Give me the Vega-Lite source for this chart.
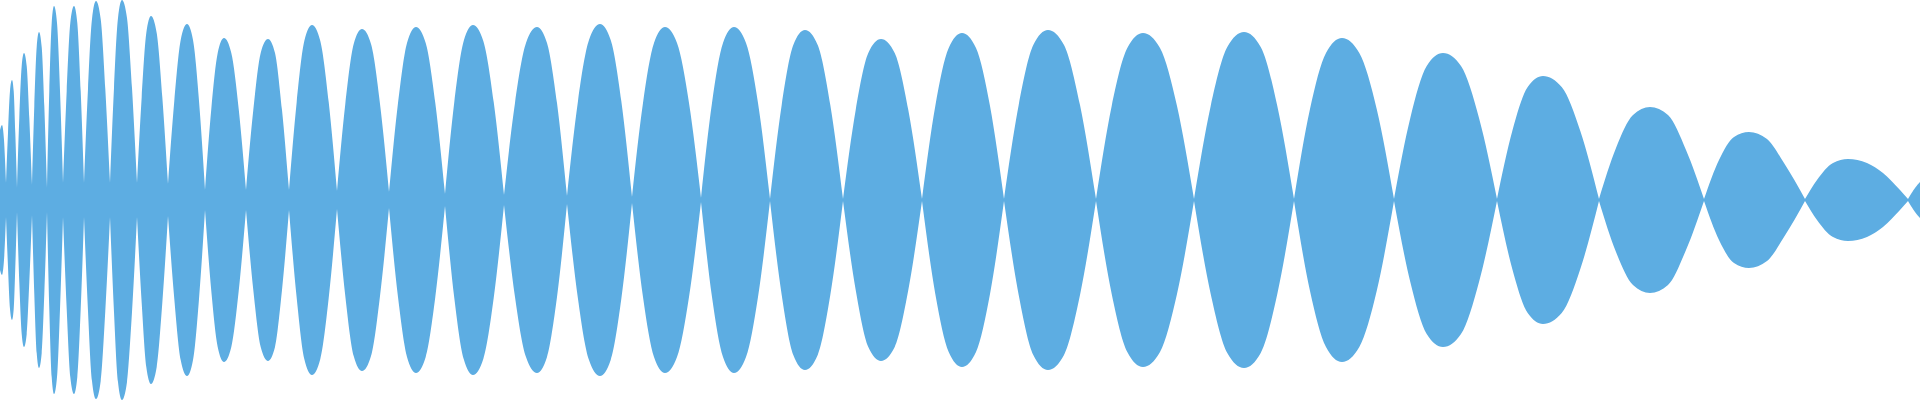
{
 "$schema": "https://vega.github.io/schema/vega-lite/v6.json",
 "width": 1920, "height": 400, "padding": 0, "autosize": {"type": "none"},
 "background": "white",
 "config": {"view": {"stroke": null}},
 "data": {"values": [
  {"t":0,"a":70,"k":0},{"t":2,"a":75,"k":0},{"t":4,"a":60,"k":0},{"t":6,"a":17,"k":0},
  {"t":6,"a":17,"k":1},{"t":8,"a":67,"k":1},{"t":10,"a":109,"k":1},{"t":12,"a":120,"k":1},{"t":13.7,"a":109,"k":1},{"t":15.3,"a":67,"k":1},{"t":17,"a":12,"k":1},
  {"t":17,"a":12,"k":2},{"t":19.3,"a":82,"k":2},{"t":21.7,"a":134,"k":2},{"t":24,"a":147,"k":2},{"t":26.7,"a":134,"k":2},{"t":29.3,"a":82,"k":2},{"t":32,"a":15,"k":2},
  {"t":32,"a":15,"k":3},{"t":34.3,"a":94,"k":3},{"t":36.7,"a":153,"k":3},{"t":39,"a":168,"k":3},{"t":41.7,"a":153,"k":3},{"t":44.3,"a":94,"k":3},{"t":47,"a":12,"k":3},
  {"t":47,"a":12,"k":4},{"t":49.3,"a":109,"k":4},{"t":51.7,"a":177,"k":4},{"t":54,"a":194,"k":4},{"t":57,"a":177,"k":4},{"t":60,"a":109,"k":4},{"t":63,"a":17,"k":4},
  {"t":63,"a":17,"k":5},{"t":66.7,"a":109,"k":5},{"t":70.3,"a":177,"k":5},{"t":74,"a":194,"k":5},{"t":77.3,"a":177,"k":5},{"t":80.7,"a":109,"k":5},{"t":84,"a":17,"k":5},
  {"t":84,"a":17,"k":6},{"t":88,"a":111,"k":6},{"t":92,"a":181,"k":6},{"t":96,"a":199,"k":6},{"t":100.7,"a":181,"k":6},{"t":105.3,"a":111,"k":6},{"t":110,"a":17,"k":6},
  {"t":110,"a":17,"k":7},{"t":114,"a":112,"k":7},{"t":118,"a":182,"k":7},{"t":122,"a":200,"k":7},{"t":127,"a":182,"k":7},{"t":132,"a":112,"k":7},{"t":137,"a":17,"k":7},
  {"t":137,"a":17,"k":8},{"t":141.7,"a":103,"k":8},{"t":146.3,"a":167,"k":8},{"t":151,"a":184,"k":8},{"t":156.7,"a":167,"k":8},{"t":162.3,"a":103,"k":8},{"t":168,"a":16,"k":8},
  {"t":168,"a":16,"k":9},{"t":174.3,"a":99,"k":9},{"t":180.7,"a":160,"k":9},{"t":187,"a":176,"k":9},{"t":193,"a":160,"k":9},{"t":199,"a":99,"k":9},{"t":205,"a":10,"k":9},
  {"t":205,"a":10,"k":10},{"t":211.3,"a":91,"k":10},{"t":217.7,"a":147,"k":10},{"t":224,"a":162,"k":10},{"t":231.3,"a":147,"k":10},{"t":238.7,"a":91,"k":10},{"t":246,"a":10,"k":10},
  {"t":246,"a":10,"k":11},{"t":253.3,"a":90,"k":11},{"t":260.7,"a":147,"k":11},{"t":268,"a":161,"k":11},{"t":275,"a":147,"k":11},{"t":282,"a":90,"k":11},{"t":289,"a":10,"k":11},
  {"t":289,"a":10,"k":12},{"t":296.7,"a":98,"k":12},{"t":304.3,"a":159,"k":12},{"t":312,"a":175,"k":12},{"t":320.3,"a":159,"k":12},{"t":328.7,"a":98,"k":12},{"t":337,"a":9,"k":12},
  {"t":337,"a":9,"k":13},{"t":345.3,"a":96,"k":13},{"t":353.7,"a":156,"k":13},{"t":362,"a":171,"k":13},{"t":371,"a":156,"k":13},{"t":380,"a":96,"k":13},{"t":389,"a":8,"k":13},
  {"t":389,"a":8,"k":14},{"t":398,"a":97,"k":14},{"t":407,"a":157,"k":14},{"t":416,"a":173,"k":14},{"t":425.7,"a":157,"k":14},{"t":435.3,"a":97,"k":14},{"t":445,"a":6,"k":14},
  {"t":445,"a":6,"k":15},{"t":454.3,"a":98,"k":15},{"t":463.7,"a":159,"k":15},{"t":473,"a":175,"k":15},{"t":483.3,"a":159,"k":15},{"t":493.7,"a":98,"k":15},{"t":504,"a":5,"k":15},
  {"t":504,"a":5,"k":16},{"t":515,"a":97,"k":16},{"t":526,"a":157,"k":16},{"t":537,"a":173,"k":16},{"t":547,"a":157,"k":16},{"t":557,"a":97,"k":16},{"t":567,"a":4,"k":16},
  {"t":567,"a":4,"k":17},{"t":578,"a":99,"k":17},{"t":589,"a":160,"k":17},{"t":600,"a":176,"k":17},{"t":610.7,"a":160,"k":17},{"t":621.3,"a":99,"k":17},{"t":632,"a":3,"k":17},
  {"t":632,"a":3,"k":18},{"t":643,"a":97,"k":18},{"t":654,"a":157,"k":18},{"t":665,"a":173,"k":18},{"t":677,"a":157,"k":18},{"t":689,"a":97,"k":18},{"t":701,"a":2,"k":18},
  {"t":701,"a":2,"k":19},{"t":712,"a":97,"k":19},{"t":723,"a":157,"k":19},{"t":734,"a":173,"k":19},{"t":746,"a":157,"k":19},{"t":758,"a":97,"k":19},{"t":770,"a":1,"k":19},
  {"t":770,"a":1,"k":20},{"t":781.7,"a":95,"k":20},{"t":793.3,"a":155,"k":20},{"t":805,"a":170,"k":20},{"t":817.7,"a":155,"k":20},{"t":830.3,"a":95,"k":20},{"t":843,"a":1,"k":20},
  {"t":843,"a":1,"k":21},{"t":855.7,"a":90,"k":21},{"t":868.3,"a":147,"k":21},{"t":881,"a":161,"k":21},{"t":894.7,"a":147,"k":21},{"t":908.3,"a":90,"k":21},{"t":922,"a":1,"k":21},
  {"t":922,"a":1,"k":22},{"t":935.3,"a":94,"k":22},{"t":948.7,"a":152,"k":22},{"t":962,"a":167,"k":22},{"t":976,"a":152,"k":22},{"t":990,"a":94,"k":22},{"t":1004,"a":1,"k":22},
  {"t":1004,"a":1,"k":23},{"t":1018.7,"a":95,"k":23},{"t":1033.3,"a":155,"k":23},{"t":1048,"a":170,"k":23},{"t":1064,"a":155,"k":23},{"t":1080,"a":95,"k":23},{"t":1096,"a":1,"k":23},
  {"t":1096,"a":1,"k":24},{"t":1111.7,"a":94,"k":24},{"t":1127.3,"a":152,"k":24},{"t":1143,"a":167,"k":24},{"t":1160,"a":152,"k":24},{"t":1177,"a":94,"k":24},{"t":1194,"a":1,"k":24},
  {"t":1194,"a":1,"k":25},{"t":1210.7,"a":94,"k":25},{"t":1227.3,"a":153,"k":25},{"t":1244,"a":168,"k":25},{"t":1260.7,"a":153,"k":25},{"t":1277.3,"a":94,"k":25},{"t":1294,"a":1,"k":25},
  {"t":1294,"a":1,"k":26},{"t":1310,"a":91,"k":26},{"t":1326,"a":147,"k":26},{"t":1342,"a":162,"k":26},{"t":1359.3,"a":147,"k":26},{"t":1376.7,"a":91,"k":26},{"t":1394,"a":1,"k":26},
  {"t":1394,"a":1,"k":27},{"t":1410.3,"a":82,"k":27},{"t":1426.7,"a":134,"k":27},{"t":1443,"a":147,"k":27},{"t":1461,"a":134,"k":27},{"t":1479,"a":82,"k":27},{"t":1497,"a":1,"k":27},
  {"t":1497,"a":1,"k":28},{"t":1512.3,"a":69,"k":28},{"t":1527.7,"a":113,"k":28},{"t":1543,"a":124,"k":28},{"t":1561.7,"a":113,"k":28},{"t":1580.3,"a":69,"k":28},{"t":1599,"a":1,"k":28},
  {"t":1599,"a":1,"k":29},{"t":1616,"a":52,"k":29},{"t":1633,"a":85,"k":29},{"t":1650,"a":93,"k":29},{"t":1668,"a":85,"k":29},{"t":1686,"a":50,"k":29},{"t":1704,"a":1,"k":29},
  {"t":1704,"a":1,"k":30},{"t":1719,"a":40,"k":30},{"t":1734,"a":63,"k":30},{"t":1749,"a":68,"k":30},{"t":1767,"a":61,"k":30},{"t":1784,"a":37,"k":30},{"t":1805,"a":1,"k":30},
  {"t":1805,"a":1,"k":31},{"t":1817,"a":20,"k":31},{"t":1833,"a":37,"k":31},{"t":1848,"a":41,"k":31},{"t":1867,"a":37,"k":31},{"t":1883,"a":27,"k":31},{"t":1900,"a":10,"k":31},{"t":1908,"a":1,"k":31},
  {"t":1908,"a":1,"k":32},{"t":1915,"a":12,"k":32},{"t":1920,"a":18,"k":32}
 ]},
 "encoding": {
  "x": {"field": "t", "type": "quantitative", "scale": {"domain": [0, 1920], "nice": false, "zero": false}, "axis": null},
  "detail": {"field": "k", "type": "nominal"}
 },
 "layer": [
  {"mark": {"type": "area", "interpolate": "monotone", "color": "#5DADE2", "opacity": 1},
   "encoding": {"y": {"field": "a", "type": "quantitative", "stack": null, "scale": {"domain": [-200, 200], "nice": false}, "axis": null}}},
  {"mark": {"type": "area", "interpolate": "monotone", "color": "#5DADE2", "opacity": 1},
   "encoding": {"y": {"field": "a", "type": "quantitative", "stack": null, "scale": {"domain": [-200, 200], "nice": false, "reverse": true}, "axis": null}}}
 ],
 "resolve": {"scale": {"y": "independent"}}
}
